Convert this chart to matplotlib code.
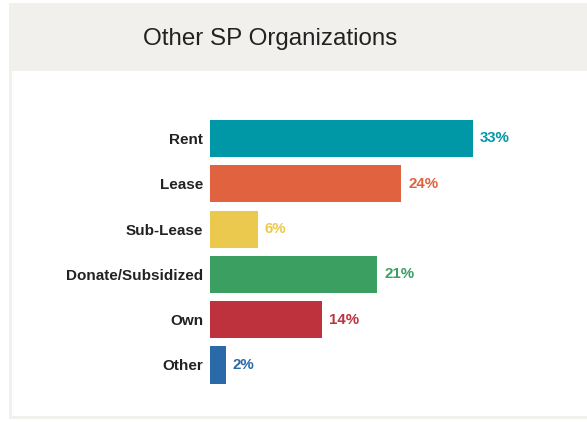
import matplotlib.pyplot as plt
from matplotlib.patches import Rectangle

# 数据
categories = ["Rent", "Lease", "Sub-Lease", "Donate/Subsidized", "Own", "Other"]
values = [33, 24, 6, 21, 14, 2]
colors = ["#0097a7", "#e0623e", "#ebc94f", "#3b9f62", "#be323e", "#2a6aa8"]
title = "Other SP Organizations"

plt.rcParams['font.family'] = ['Liberation Sans', 'DejaVu Sans']

W, H = 587, 422
fig = plt.figure(figsize=(W / 100, H / 100), dpi=100)
fig.patch.set_facecolor("white")

# 卡片背景和标题栏
fig.patches.append(Rectangle((9 / W, 3 / H), 1, (419 - 3) / H, transform=fig.transFigure,
                             facecolor="#f1f0ec", edgecolor="none", zorder=0))
fig.patches.append(Rectangle((12 / W, 6 / H), 1, (H - 71 - 6) / H, transform=fig.transFigure,
                             facecolor="white", edgecolor="none", zorder=1))
fig.text(270 / W, 1 - 39 / H, title, ha="center", va="center", fontsize=17.4, color="#222222")

# 条形图区域
scale = 263 / 33  # 像素 / 百分比
ax = fig.add_axes([210 / W, (H - 387.65) / H, 40 * scale / W, 271.8 / H])
ax.set_zorder(5)
ax.set_facecolor("none")
y = list(range(len(categories)))
ax.barh(y, values, height=0.82, color=colors)
ax.set_xlim(0, 40)
ax.set_ylim(len(categories) - 0.5, -0.5)
ax.set_yticks(y)
ax.set_yticklabels(categories, fontsize=11, fontweight="bold", color="#222222")
ax.tick_params(axis="y", length=0, pad=5)
ax.set_xticks([])
for s in ax.spines.values():
    s.set_visible(False)

for yi, v, c in zip(y, values, colors):
    ax.annotate(f"{v}%", (v, yi), xytext=(5, 0), textcoords="offset points",
                ha="left", va="center", fontsize=10.8, fontweight="bold", color=c)

fig.savefig("out.png", dpi=100)
